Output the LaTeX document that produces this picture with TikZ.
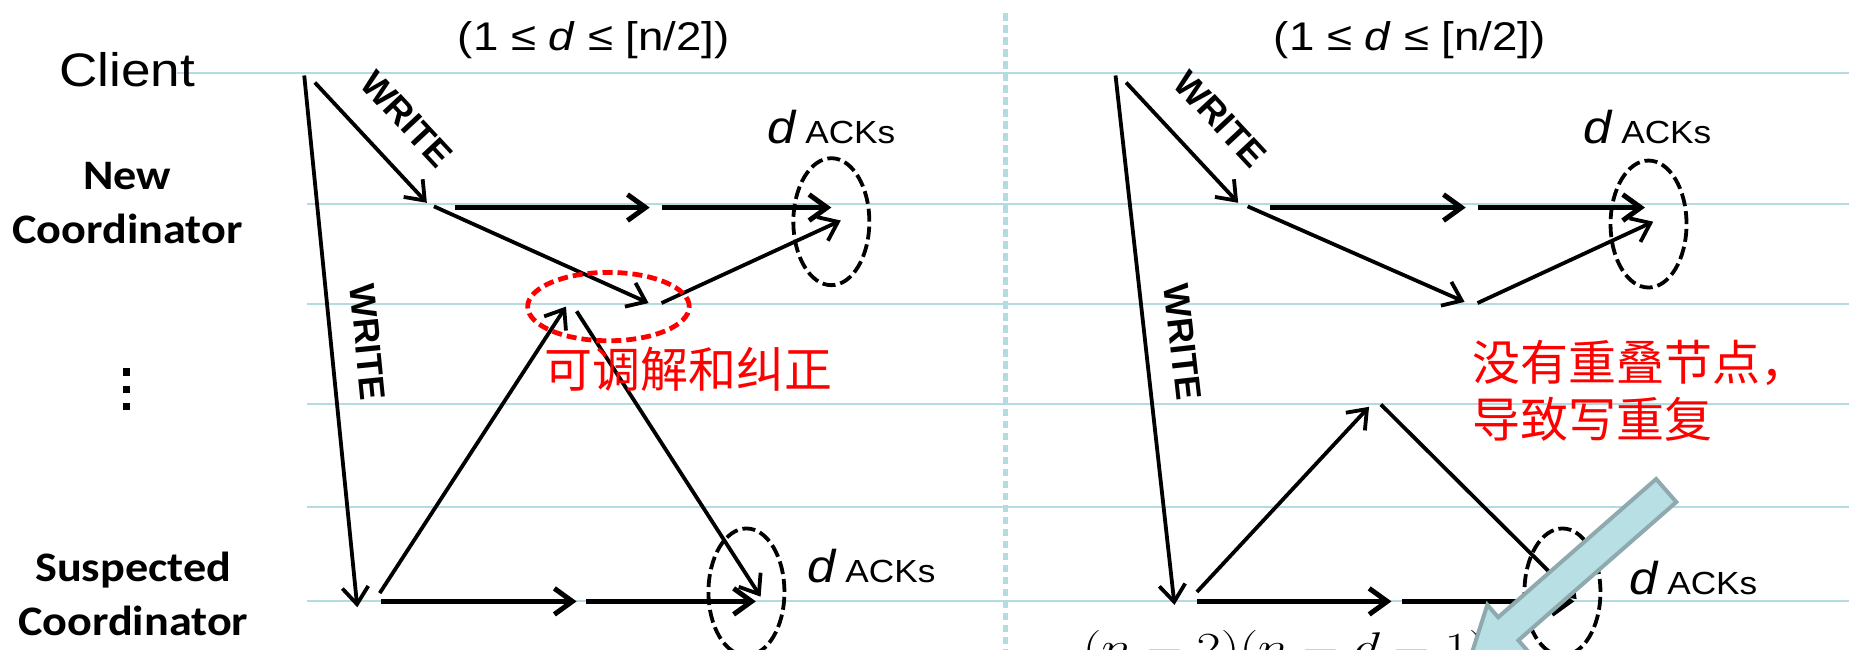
\documentclass[tikz,border=0pt]{standalone}
\usepackage{fontspec}
\usepackage{graphicx}
\setmainfont{Liberation Sans}
\newfontfamily\calfont{Carlito}
\newfontfamily\cjkfont{Noto Sans CJK SC}
\usetikzlibrary{arrows.meta,shapes.geometric}

\definecolor{guide}{RGB}{180,220,224}
\definecolor{calloutfill}{RGB}{184,223,227}
\definecolor{calloutedge}{RGB}{143,170,175}

% horizontal stretch of a piece of text
\newcommand{\wide}[2]{\scalebox{#1}[1]{#2}}

\begin{document}
\begin{tikzpicture}[x=0.5897pt, y=-0.5897pt,
  guideline/.style={draw=guide, line width=1pt},
  separator/.style={draw=guide, line width=2.6pt, dash pattern=on 3.8pt off 2.2pt},
  msg/.style={draw=black, line width=1.9pt, -{Straight Barb[length=8.5pt,width=13pt]}},
  fwd/.style={draw=black, line width=2.5pt, -{Straight Barb[length=9pt,width=13pt]}},
  ackring/.style={draw=black, ellipse, line width=1.9pt, dash pattern=on 6.5pt off 2.5pt,
    inner sep=0pt, minimum width=38pt, minimum height=63.5pt},
  fixring/.style={draw=red, ellipse, line width=2.4pt, dash pattern=on 5pt off 2.5pt,
    inner sep=0pt, minimum width=80.8pt, minimum height=34.2pt},
  role/.style={font=\calfont\bfseries\fontsize{21}{27}\selectfont, align=center, inner sep=0pt},
  writelbl/.style={font=\bfseries\fontsize{18}{18}\selectfont, inner sep=0pt},
  acklbl/.style={font=\fontsize{16}{16}\selectfont, inner sep=0pt},
  rangelbl/.style={font=\fontsize{20}{20}\selectfont, inner sep=0pt, anchor=base west},
  note/.style={text=red, font=\cjkfont\fontsize{24}{28.5}\selectfont, inner sep=0pt},
]
\useasboundingbox (0,0) rectangle (1568,551);
\clip (0,0) rectangle (1568,551);

% ---- guide lines and panel separator
\draw[guideline] (150,62) -- (1568,62);
\foreach \yy in {173,258,343,430,510}
  \draw[guideline] (260,\yy) -- (1568,\yy);
\draw[separator] (853,11) -- (853,551);

% ---- row labels
\node[anchor=base west, inner sep=0pt, font=\fontsize{23.5}{24}\selectfont] (client) at (50,73) {\wide{1.13}{Client}};
\node[role] (newc) at (108,172) {\wide{1.1}{New}\\\wide{1.1}{Coordinator}};
\node[role] (suspc) at (113,504) {\wide{1.1}{Suspected}\\\wide{1.1}{Coordinator}};
\foreach \yy in {315.5,330,345}
  \fill (104,\yy-3) rectangle (110,\yy+3);

% ---- headers
\node[rangelbl] (rangeL) at (388,43) {\wide{1.14}{(1 ≤ \textit{d} ≤ [n/2])}};
\node[rangelbl] (rangeR) at (1080,43) {\wide{1.14}{(1 ≤ \textit{d} ≤ [n/2])}};

% ================= left panel =================
\coordinate (L-cl) at (258,64);
\coordinate (L-sc) at (303,515);
\coordinate (L-w0) at (267,70);
\coordinate (L-nc) at (362,172);
\coordinate (L-n0) at (368,175);
\coordinate (L-a0) at (386,176);
\coordinate (L-a1) at (551,176);
\coordinate (L-a2) at (561,176);
\coordinate (L-a3) at (705,176);
\coordinate (L-m1) at (550,257);
\coordinate (L-m2) at (561,257);
\coordinate (L-k1) at (713,187);
\coordinate (L-s0) at (322,503);
\coordinate (L-m3) at (480,260);
\coordinate (L-m4) at (489,264);
\coordinate (L-k2) at (645,506);
\coordinate (L-b0) at (323,510);
\coordinate (L-b1) at (489,510);
\coordinate (L-b2) at (497,510);
\coordinate (L-b3) at (641,510);

\draw[msg] (L-cl) -- (L-sc);
\draw[msg] (L-w0) -- (L-nc);
\draw[fwd] (L-a0) -- (L-a1);
\draw[fwd] (L-a2) -- (L-a3);
\draw[msg] (L-n0) -- (L-m1);
\draw[msg] (L-m2) -- (L-k1);
\draw[msg] (L-s0) -- (L-m3);
\draw[msg] (L-m4) -- (L-k2);
\draw[fwd] (L-b0) -- (L-b1);
\draw[fwd] (L-b2) -- (L-b3);

\node[writelbl, rotate=-47] (L-wr1) at (345,101) {WRITE};
\node[writelbl, rotate=-84.3] (L-wr2) at (312,290) {WRITE};

\node[fixring] (L-fix) at (516,260) {};
\node[ackring] (L-ack1) at (705,188) {};
\node[ackring] (L-ack2) at (633,502) {};
\node[acklbl] (L-ackt1) at (705,108) {\wide{1.1}{{\itshape\fontsize{23}{23}\selectfont d} ACKs}};
\node[acklbl] (L-ackt2) at (739,480) {\wide{1.1}{{\itshape\fontsize{23}{23}\selectfont d} ACKs}};
\node[note] (L-note) at (584,313) {可调解和纠正};

% ================= right panel =================
\coordinate (R-cl) at (946,64);
\coordinate (R-sc) at (996,513);
\coordinate (R-w0) at (955,70);
\coordinate (R-nc) at (1050,172);
\coordinate (R-n0) at (1058,175);
\coordinate (R-a0) at (1077,176);
\coordinate (R-a1) at (1243,176);
\coordinate (R-a2) at (1253,176);
\coordinate (R-a3) at (1395,176);
\coordinate (R-m1) at (1242,256);
\coordinate (R-m2) at (1253,257);
\coordinate (R-k1) at (1402,188);
\coordinate (R-s0) at (1015,502);
\coordinate (R-m3) at (1161,345);
\coordinate (R-m4) at (1171,343);
\coordinate (R-k2) at (1337,508);
\coordinate (R-b0) at (1015,510);
\coordinate (R-b1) at (1180,510);
\coordinate (R-b2) at (1189,510);
\coordinate (R-b3) at (1335,510);

\draw[msg] (R-cl) -- (R-sc);
\draw[msg] (R-w0) -- (R-nc);
\draw[fwd] (R-a0) -- (R-a1);
\draw[fwd] (R-a2) -- (R-a3);
\draw[msg] (R-n0) -- (R-m1);
\draw[msg] (R-m2) -- (R-k1);
\draw[msg] (R-s0) -- (R-m3);
\draw[msg] (R-m4) -- (R-k2);
\draw[fwd] (R-b0) -- (R-b1);
\draw[fwd] (R-b2) -- (R-b3);

\node[writelbl, rotate=-47] (R-wr1) at (1035,101) {WRITE};
\node[writelbl, rotate=-83.6] (R-wr2) at (1003,290) {WRITE};

\node[ackring] (R-ack1) at (1398,190) {};
\node[ackring] (R-ack2) at (1325,502) {};
\node[acklbl] (R-ackt1) at (1397,108) {\wide{1.1}{{\itshape\fontsize{23}{23}\selectfont d} ACKs}};
\node[acklbl] (R-ackt2) at (1436,490) {\wide{1.1}{{\itshape\fontsize{23}{23}\selectfont d} ACKs}};
\node[note, align=left, anchor=west] (R-note) at (1248,331) {没有重叠节点，\\导致写重复};

\node[anchor=base west, inner sep=0pt] (R-count) at (918,561)
  {\wide{1.27}{\fontsize{20}{20}\selectfont$(n-2)(n-d-1)$}};

% callout arrow pointing at the count
\begin{scope}[shift={(1413,416)}, rotate=221.2]
  \filldraw[fill=calloutfill, draw=calloutedge, line width=2pt, line join=miter]
    (0,-13) -- (178,-13) -- (178,-27) -- (223,0) -- (178,27) -- (178,13) -- (0,13) -- cycle;
\end{scope}
\end{tikzpicture}
\end{document}
